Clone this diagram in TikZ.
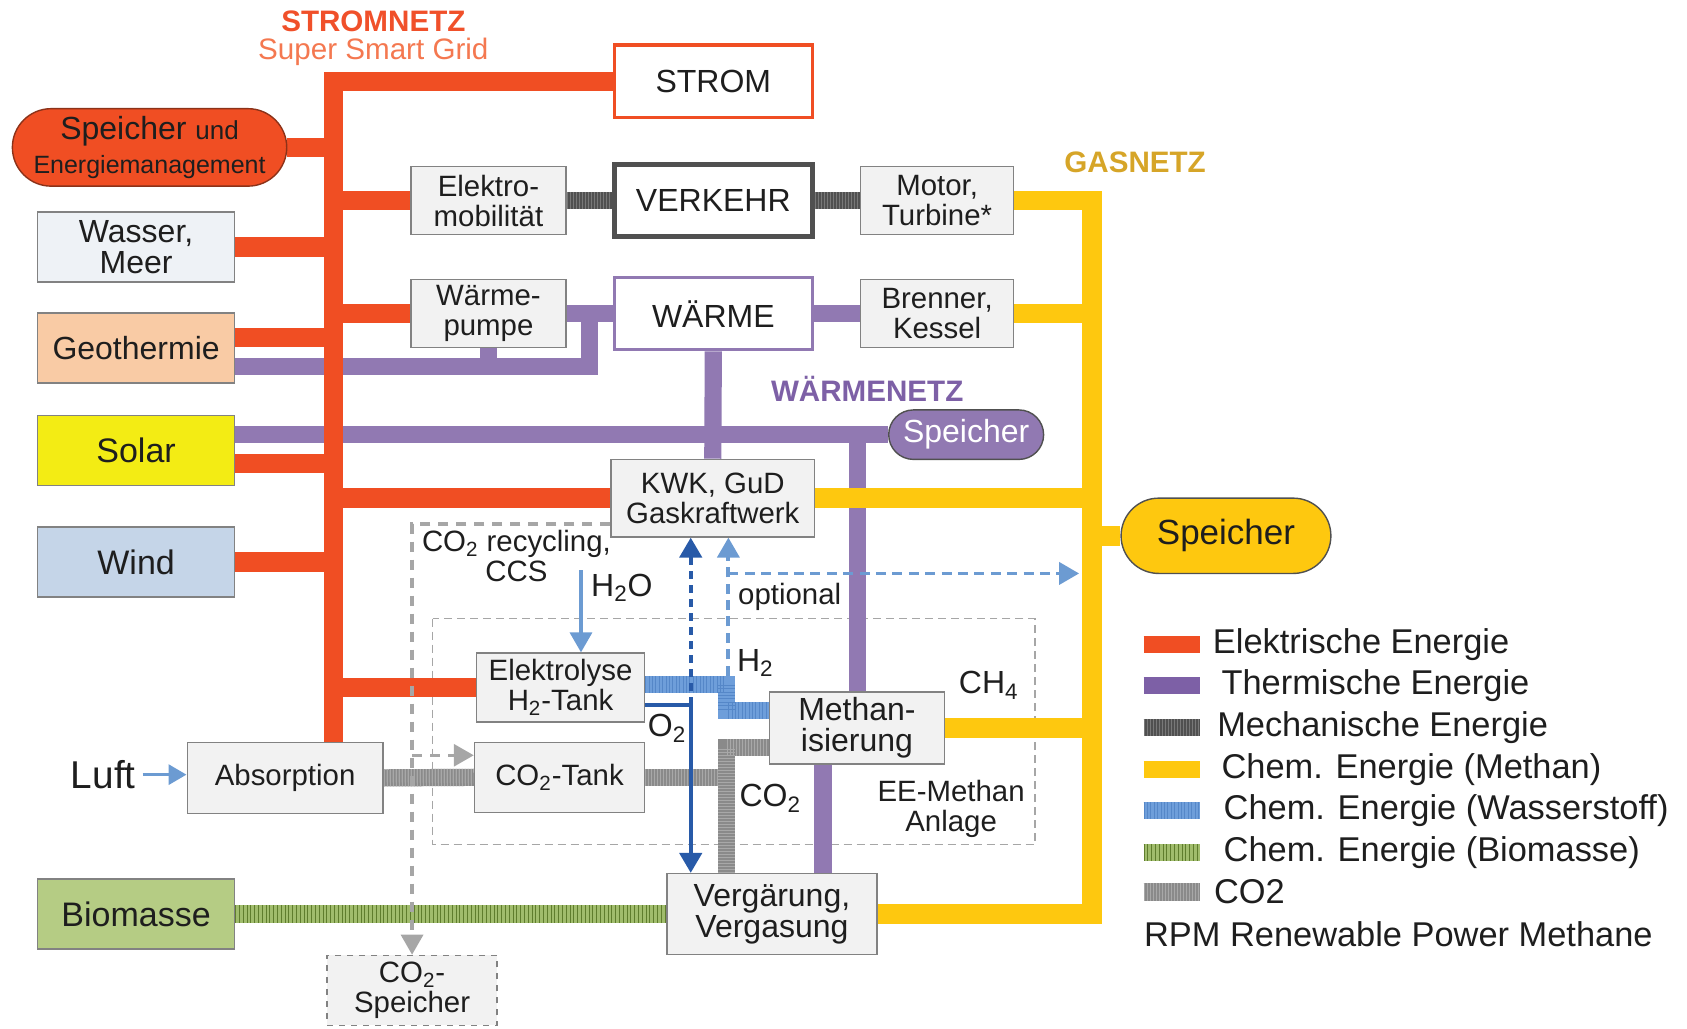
\documentclass[tikz,border=0pt]{standalone}
\usepackage{fontspec}
\setmainfont{Liberation Sans}
\usetikzlibrary{arrows.meta,calc,shapes.misc}
\pgfdeclarelayer{bg}
\pgfsetlayers{bg,main}
\definecolor{redE}{RGB}{240,78,35}
\definecolor{redB}{RGB}{140,50,25}
\definecolor{purp}{RGB}{145,121,178}
\definecolor{purpL}{RGB}{125,96,166}
\definecolor{yel}{RGB}{254,200,15}
\definecolor{gastxt}{RGB}{214,165,40}
\definecolor{mech}{RGB}{80,80,80}
\definecolor{mechL}{RGB}{120,120,120}
\definecolor{cotwo}{RGB}{138,138,138}
\definecolor{cotwoL}{RGB}{168,168,168}
\definecolor{bioG}{RGB}{160,188,108}
\definecolor{bioD}{RGB}{95,125,45}
\definecolor{hyd}{RGB}{110,158,218}
\definecolor{hydD}{RGB}{85,135,200}
\definecolor{lblue}{RGB}{108,155,210}
\definecolor{dblue}{RGB}{40,90,168}
\definecolor{dashg}{RGB}{166,166,166}
\definecolor{boxfill}{RGB}{242,242,242}
\definecolor{boxline}{RGB}{130,130,130}
\definecolor{txt}{RGB}{30,30,30}
\definecolor{wasserF}{RGB}{238,242,246}
\definecolor{geoF}{RGB}{249,203,165}
\definecolor{solarF}{RGB}{243,236,20}
\definecolor{windF}{RGB}{197,213,232}
\definecolor{bioF}{RGB}{181,204,132}
\definecolor{strT}{RGB}{240,80,42}
\definecolor{strS}{RGB}{244,120,80}
\begin{document}
\begin{tikzpicture}[x=0.538pt,y=-0.538pt,
  wh/.style 2 args={minimum width=#1*0.538pt, minimum height=#2*0.538pt},
  box/.style={draw=boxline, fill=boxfill, line width=0.7pt, inner sep=0pt, align=center, text=txt},
  fA/.style={font=\fontsize{16}{15.5}\selectfont},
  fB/.style={font=\fontsize{14.7}{15}\selectfont},
  fC/.style={font=\fontsize{17}{17}\selectfont},
  fL/.style={font=\fontsize{17.2}{17}\selectfont},
  fT/.style={font=\fontsize{14.8}{15}\selectfont\bfseries},
  redline/.style={draw=redE, line width=9.7pt},
  purpline/.style={draw=purp, line width=8.6pt},
  yelline/.style={draw=yel, line width=9.7pt},
  mechline/.style={draw=mech, line width=8.6pt, postaction={draw=mechL, line width=8.6pt, dash pattern=on 0.6pt off 0.9pt}},
  co2line/.style={draw=cotwo, line width=8.6pt, postaction={draw=cotwoL, line width=8.6pt, dash pattern=on 0.6pt off 0.9pt}},
  bioline/.style={draw=bioG, line width=8.6pt, postaction={draw=bioD, line width=8.6pt, dash pattern=on 0.5pt off 1.4pt}},
  h2line/.style={draw=hyd, line width=8.6pt, postaction={draw=hydD, line width=8.6pt, dash pattern=on 0.5pt off 1.2pt}},
  tip/.style={-{Triangle[width=11pt,length=10pt]}},
  lbline/.style={draw=lblue, line width=1.7pt},
  optline/.style={draw=lblue, line width=1.9pt, dash pattern=on 5pt off 3.2pt},
  o2line/.style={draw=dblue, line width=2.2pt},
  recline/.style={draw=dashg, line width=1.6pt, dash pattern=on 5pt off 4pt},
  lgtext/.style={anchor=west, fL, text=txt, inner sep=0pt}
]
\useasboundingbox (0,0) rectangle (1568,956);

% titles
\node[fT, text=strT] (tStrom) at (347,20) {STROMNETZ};
\node[font=\fontsize{14.8}{15}\selectfont, text=strS] (tSmart) at (347,48) {Super Smart Grid};
\node[fT, text=gastxt] (tGas) at (1055,151) {GASNETZ};
\node[fT, text=purpL] (tWnetz) at (806,361) {WÄRMENETZ};

% central boxes
\node[box, wh={184}{67}, draw=redE, line width=1.7pt, fill=white, fA] (strom) at (663,75.5) {STROM};
\node[box, wh={184}{67}, draw=mech, line width=2.2pt, fill=white, fA] (verkehr) at (663,186.5) {VERKEHR};
\node[box, wh={184}{67}, draw=purp, line width=1.7pt, fill=white, fA] (waerme) at (663,291.5) {WÄRME};
\node[box, wh={144}{63}, fB] (elektro) at (454,186.5) {Elektro-\\mobilität};
\node[box, wh={144}{63}, fB] (wpumpe) at (454,291.5) {Wärme-\\pumpe};
\node[box, wh={142}{63}, fB] (motor) at (871,186.5) {Motor,\\Turbine*};
\node[box, wh={142}{63}, fB] (brenner) at (871,291.5) {Brenner,\\Kessel};
\node[box, wh={189}{72}, fB] (kwk) at (662.5,463) {KWK, GuD\\Gaskraftwerk};
\node[box, wh={156}{64}, fB] (elyse) at (521,639) {Elektrolyse\\H\textsubscript{2}-Tank};
\node[box, wh={158}{65}, fB] (co2tank) at (520,722.5) {CO\textsubscript{2}-Tank};
\node[box, wh={182}{66}, fB] (absorp) at (265,723) {Absorption};
\node[box, wh={163}{67}, fA] (methan) at (796.5,676.5) {Methan-\\isierung};
\node[box, wh={195}{75}, fA] (verg) at (717.5,849.5) {Vergärung,\\Vergasung};
\node[box, wh={158}{65}, dashed, fB] (co2sp) at (383,920.5) {CO\textsubscript{2}-\\Speicher};

% left sources
\node[box, wh={183}{65}, fill=wasserF, fA] (wasser) at (126.5,229.5) {Wasser,\\Meer};
\node[box, wh={183}{65}, fill=geoF, fA] (geo) at (126.5,323.5) {Geothermie};
\node[box, wh={183}{65}, fill=solarF, fC] (solar) at (126.5,418.5) {Solar};
\node[box, wh={183}{65}, fill=windF, fC] (wind) at (126.5,522.5) {Wind};
\node[box, wh={183}{65}, fill=bioF, fC] (bio) at (126.5,849.5) {Biomasse};

% storages
\node[rounded rectangle, wh={255}{72}, fill=redE, draw=redB, line width=0.7pt, inner sep=0pt, align=center, text=txt,
  font=\fontsize{16}{17}\selectfont] (spR) at (139,137)
  {Speicher {\fontsize{13}{12}\selectfont und}\\[0pt]{\fontsize{12.5}{12}\selectfont Energiemanagement}};
\node[rounded rectangle, wh={144}{46}, fill=purp, draw=mech, line width=0.7pt, inner sep=0pt, text=white, fA] (spP) at (898,404) {Speicher};
\node[rounded rectangle, wh={195}{70}, fill=yel, draw=mech, line width=0.7pt, inner sep=0pt, text=txt,
  font=\fontsize{17.5}{17}\selectfont] (spY) at (1139.5,498) {Speicher};

% labels
\node[fB, text=txt, align=center] (lrec) at (480,517) {CO\textsubscript{2} recycling,\\CCS};
\node[fA, text=txt] (lh2o) at (578,546) {H\textsubscript{2}O};
\node[fB, text=txt] (lopt) at (734,555) {optional};
\node[fA, text=txt] (lh2) at (702,616) {H\textsubscript{2}};
\node[fA, text=txt] (lo2) at (620,677) {O\textsubscript{2}};
\node[fA, text=txt] (lch4) at (919,637) {CH\textsubscript{4}};
\node[fA, text=txt] (lco2) at (716,742) {CO\textsubscript{2}};
\node[fB, text=txt, align=center] (lee) at (884,752) {EE-Methan\\Anlage};
\node[font=\fontsize{19.4}{19}\selectfont, text=txt] (luft) at (96,720) {Luft};

% coordinates
\coordinate (busx) at (310,0);
\coordinate (gasx) at (1015,0);
\coordinate (pjx) at (548,0);
\coordinate (pv) at (797,0);
\coordinate (pv2) at (765,0);
\coordinate (cx) at (675,0);
\coordinate (ox) at (642,0);
\coordinate (optx) at (677,0);
\coordinate (optY) at (0,533);
\coordinate (h2ox) at (540,0);
\coordinate (h2oS) at (540,530);
\coordinate (rx) at (383,0);
\coordinate (rT) at (0,702);
\coordinate (geoR) at ($(geo.east)+(0,-10)$);
\coordinate (geoP) at ($(geo.east)+(0,17)$);
\coordinate (solP) at ($(solar.east)+(0,-14.5)$);
\coordinate (solR) at ($(solar.east)+(0,12.5)$);
\coordinate (cMeth) at ($(methan.west)+(0,18.5)$);
\coordinate (hE) at ($(elyse.east)+(0,-3)$);
\coordinate (hM) at ($(methan.west)+(0,-16.5)$);
\coordinate (oE) at ($(elyse.east)+(0,16)$);
\coordinate (rTop) at ($(kwk.west)+(0,24)$);

\begin{pgfonlayer}{bg}
% inner dashed box
\draw[draw=dashg, line width=0.8pt, dash pattern=on 4pt off 2.5pt] (402,575) rectangle (962,785);
% thermal
\draw[purpline] (geoP) -- (geoP -| pjx) -- (wpumpe.east -| pjx);
\draw[purpline] (wpumpe.east) -- (waerme.west);
\draw[purpline] (wpumpe.south) -- (wpumpe.south |- geoP);
\draw[purpline] (waerme.east) -- (brenner.west);
\draw[purpline] (waerme.south) -- (kwk.north);
\draw[purpline] (solP) -- (spP.west);
\draw[purpline] (spP.west -| pv) -- (methan.north -| pv);
\draw[purpline] (methan.south -| pv2) -- (verg.north -| pv2);
% electric
\draw[redline] (strom.west) -- (strom.west -| busx) -- (absorp.north -| busx);
\draw[redline] (spR.east) -- (spR.east -| busx);
\draw[redline] (wasser.east) -- (wasser.east -| busx);
\draw[redline] (geoR) -- (geoR -| busx);
\draw[redline] (solR) -- (solR -| busx);
\draw[redline] (wind.east) -- (wind.east -| busx);
\draw[redline] (elektro.west -| busx) -- (elektro.west);
\draw[redline] (wpumpe.west -| busx) -- (wpumpe.west);
\draw[redline] (kwk.west -| busx) -- (kwk.west);
\draw[redline] (elyse.west -| busx) -- (elyse.west);
% gas
\draw[yelline] (motor.east) -- (motor.east -| gasx) -- (verg.east -| gasx) -- (verg.east);
\draw[yelline] (brenner.east) -- (brenner.east -| gasx);
\draw[yelline] (kwk.east) -- (kwk.east -| gasx);
\draw[yelline] (spY.west) -- (spY.west -| gasx);
\draw[yelline] (methan.east) -- (methan.east -| gasx);
% mechanical
\draw[mechline] (elektro.east) -- (verkehr.west);
\draw[mechline] (verkehr.east) -- (motor.west);
% biomass
\draw[bioline] (bio.east) -- (verg.west);
% CO2
\draw[co2line] (absorp.east) -- (co2tank.west);
\draw[co2line] (co2tank.east) -- (co2tank.east -| cx);
\draw[co2line] (verg.north -| cx) -- (cMeth -| cx) -- (cMeth);
% hydrogen
\draw[h2line] (hE) -- (hE -| cx) -- (hM -| cx) -- (hM);
% optional
\draw[optline, tip] ($(hE -| optx)+(0,-8)$) -- (kwk.south -| optx);
\draw[optline, tip] (optY -| optx) -- ($(optY -| gasx)+(-12,0)$);
% oxygen
\draw[o2line] (oE) -- (oE -| ox);
\draw[o2line, tip] (oE -| ox) -- (verg.north -| ox);
\draw[o2line, dash pattern=on 4pt off 3pt, tip] (oE -| ox) -- (kwk.south -| ox);
% water, air
\draw[lbline, tip] (h2oS) -- (elyse.north -| h2ox);
\draw[lbline, -{Triangle[width=10pt,length=9pt]}] (luft.east) -- (luft.east -| absorp.west);
% CO2 recycling
\draw[recline, tip] (rTop) -- (rTop -| rx) -- (co2sp.north -| rx);
\draw[recline, tip] (rT -| rx) -- (rT -| co2tank.west);
\end{pgfonlayer}

% legend
\draw[draw=redE, line width=8.6pt] (1063,599) -- (1115,599);
\draw[draw=purpL, line width=8.6pt] (1063,637) -- (1115,637);
\draw[mechline] (1063,676) -- (1115,676);
\draw[draw=yel, line width=8.6pt] (1063,715) -- (1115,715);
\draw[h2line] (1063,753) -- (1115,753);
\draw[bioline] (1063,792) -- (1115,792);
\draw[co2line] (1063,829) -- (1115,829);
\node[lgtext] (lg1) at (1127,599) {Elektrische Energie};
\node[lgtext] (lg2) at (1135,637) {Thermische Energie};
\node[lgtext] (lg3) at (1131,676) {Mechanische Energie};
\node[lgtext] (lg4) at (1135,715) {Chem. Energie (Methan)};
\node[lgtext] (lg5) at (1137,753) {Chem. Energie (Wasserstoff)};
\node[lgtext] (lg6) at (1137,792) {Chem. Energie (Biomasse)};
\node[lgtext] (lg7) at (1128,829) {CO2};
\node[lgtext] (lg8) at (1063,868) {RPM Renewable Power Methane};
\end{tikzpicture}
\end{document}
